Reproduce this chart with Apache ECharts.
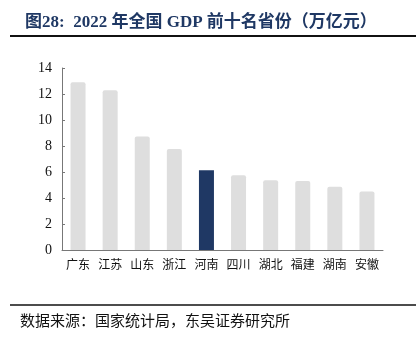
<!DOCTYPE html>
<html>
<head>
<meta charset="utf-8">
<script src="https://cdn.jsdelivr.net/npm/echarts@6/dist/echarts.min.js"></script>
<style>
  html, body { margin: 0; padding: 0; background: #fff; }
  #chart { width: 416px; height: 350px; }
</style>
</head>
<body>
<div id="chart"></div>
<script>
// 2022 年 GDP 前十名省份（万亿元）
const provinces = ['广东', '江苏', '山东', '浙江', '河南', '四川', '湖北', '福建', '湖南', '安徽'];
const gdp = [12.91, 12.29, 8.74, 7.77, 6.13, 5.75, 5.37, 5.31, 4.87, 4.50];
const highlight = '河南';
const yTicks = [0, 2, 4, 6, 8, 10, 12, 14];

const chart = echarts.init(document.getElementById('chart'));
const serif = '"Liberation Serif", "Noto Sans CJK SC", serif';

const option = {
  backgroundColor: '#fff',
  animation: false,
  title: {
    text: '图28:  2022 年全国 GDP 前十名省份（万亿元）',
    left: 20,
    top: 9,
    textStyle: {
      fontFamily: '"Liberation Serif", "Noto Sans CJK SC"',
      fontWeight: 'bold',
      fontSize: 17,
      color: '#1f3864',
    },
  },
  graphic: [
    { type: 'line', shape: { x1: 10, y1: 36, x2: 416, y2: 36 }, style: { stroke: '#111', lineWidth: 2 } },
    { type: 'line', shape: { x1: 10, y1: 305, x2: 416, y2: 305 }, style: { stroke: '#111', lineWidth: 1.5 } },
    {
      type: 'text',
      left: 20,
      top: 313,
      style: {
        text: '数据来源：国家统计局，东吴证券研究所',
        font: '15px "Noto Sans CJK SC"',
        fill: '#111',
      },
    },
  ],
  grid: { left: 62, right: 33, top: 68, bottom: 100 },
  xAxis: {
    type: 'category',
    data: provinces,
    axisLine: { lineStyle: { color: '#777' } },
    axisTick: { inside: true, length: 4, lineStyle: { color: '#777' } },
    axisLabel: { color: '#111', fontSize: 12, fontFamily: '"Noto Sans CJK SC"', margin: 8, interval: 0 },
  },
  yAxis: {
    type: 'value',
    min: yTicks[0],
    max: yTicks[yTicks.length - 1],
    interval: 2,
    splitLine: { show: false },
    axisLine: { show: true, lineStyle: { color: '#777' } },
    axisTick: { show: true, inside: true, length: 3, lineStyle: { color: '#777' } },
    axisLabel: { color: '#111', fontSize: 14, fontFamily: serif, margin: 10 },
  },
  series: [
    {
      type: 'bar',
      barWidth: 15,
      data: gdp.map((v, i) => ({
        value: v,
        itemStyle: provinces[i] === highlight
          ? { color: '#1f3864', borderRadius: 0 }
          : { color: '#dedede', borderRadius: [2, 2, 0, 0] },
      })),
    },
  ],
};

chart.setOption(option);
</script>
</body>
</html>
